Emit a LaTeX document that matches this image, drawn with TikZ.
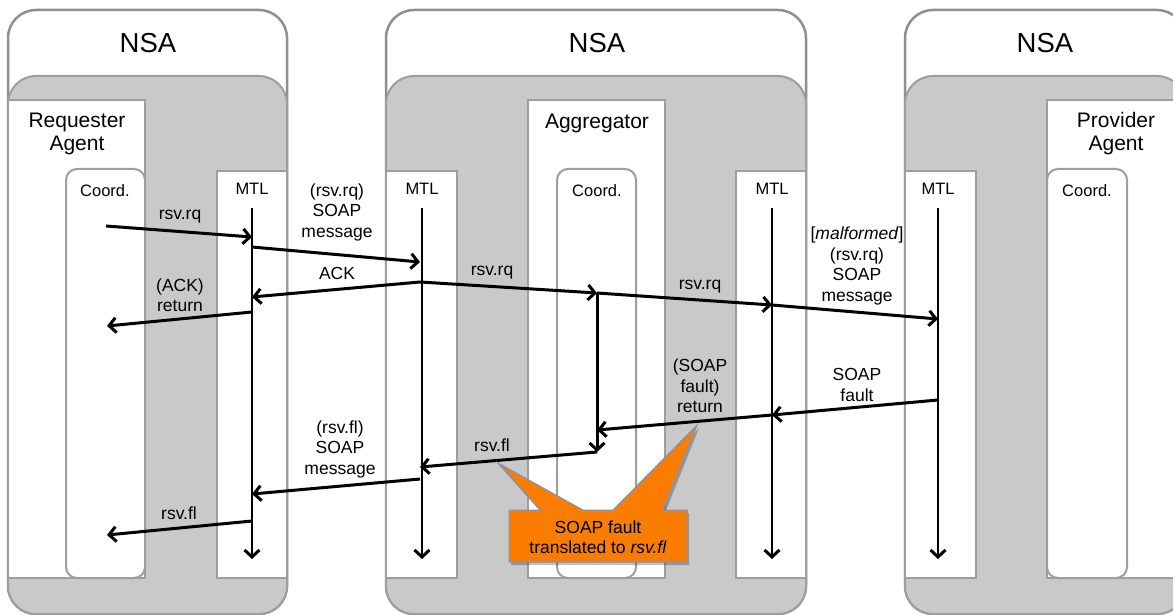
\documentclass[tikz,border=0pt]{standalone}
\usepackage{fontspec}
\setmainfont{Liberation Sans}
\usepackage{tikz}
\usetikzlibrary{arrows.meta,calc,positioning}
\definecolor{nsaline}{gray}{0.56}
\definecolor{nsagrey}{gray}{0.79}
\definecolor{boxline}{gray}{0.62}
\definecolor{faultorange}{RGB}{250,125,0}
\definecolor{faultline}{RGB}{110,150,210}
\tikzset{
  nsa/.style={draw=nsaline, line width=2.5pt, fill=white, rounded corners=28pt},
  nsainner/.style={draw=boxline, line width=2pt, fill=nsagrey, rounded corners=28pt},
  layer/.style={draw=boxline, line width=2pt, fill=white},
  coordbox/.style={layer, rounded corners=11pt},
  msg/.style={line width=3pt, -{Straight Barb[length=7pt,width=15pt]}},
  life/.style={line width=1.6pt, -{Straight Barb[length=7pt,width=15pt,line width=3pt]}},
  lbl/.style={font=\fontsize{17.5}{20.5}\selectfont, align=center, inner sep=0pt},
  title/.style={font=\fontsize{27.5}{30}\selectfont, inner sep=0pt},
  agent/.style={font=\fontsize{21}{23}\selectfont, align=center, inner sep=0pt},
  small/.style={font=\fontsize{16.5}{19}\selectfont, inner sep=0pt},
}

\begin{document}
\begin{tikzpicture}[x=1pt,y=-1pt]
\path[use as bounding box] (0,0) rectangle (1173,615);
\clip (0,0) rectangle (1173,615);
%NSA-Rahmen und graue Flaeche
\foreach \xa/\xb in {8/287,386/806,905/1185}{
\draw[nsa] (\xa,10) rectangle (\xb,614);
\draw[nsainner] (\xa,76) rectangle (\xb,614);
}
%Agenten und MTL-Schichten
\draw[layer] (8,100) rectangle (145,578);
\draw[layer] (528,100) rectangle (665,578);
\draw[layer] (1047,100) rectangle (1195,578);
\foreach \xa/\xb in {217/287,386/457,736/806,905/976}{
\draw[layer] (\xa,171) rectangle (\xb,578);
}
\draw[coordbox] (66,169) rectangle (145,578);
\draw[coordbox] (557,169) rectangle (636,578);
\draw[coordbox] (1047,169) rectangle (1127,578);
%Beschriftung
\node[title] (nsaA) at (148,43) {NSA};
\node[title] (nsaB) at (597,43) {NSA};
\node[title] (nsaC) at (1045,43) {NSA};
\node[agent] (req) at (77,134) {Requester\\Agent};
\node[agent] (agg) at (597,123) {Aggregator};
\node[agent] (prov) at (1116,134) {Provider\\Agent};
\node[small] (crdA) at (105,191) {Coord.};
\node[small] (crdB) at (597,191) {Coord.};
\node[small] (crdC) at (1087,191) {Coord.};
\foreach \x/\n in {252/A,422/B,772/C,938/D}{
\node[small] (mtl\n) at (\x,189) {MTL};
\coordinate (top\n) at (\x,208);
\coordinate (bot\n) at (\x,559);
\draw[life] (top\n) -- (bot\n);
}
%Anfrage
\coordinate (rqS) at (106,226);
\coordinate (rqA) at (252,237);
\coordinate (smA) at (252,247);
\coordinate (smB) at (420,262);
\coordinate (ackB) at (420,282);
\coordinate (ackA) at (252,297);
\coordinate (retA) at (252,312);
\coordinate (retS) at (107,326);
\coordinate (aggT) at (597,293);
\coordinate (rqC) at (772,305);
\coordinate (rqD) at (938,319);
%Fehler
\coordinate (sfD) at (938,400);
\coordinate (sfC) at (772,415);
\coordinate (sfAgg) at (597,430);
\coordinate (aggB) at (597,452);
\coordinate (flB) at (420,467);
\coordinate (fmB) at (420,479);
\coordinate (fmA) at (252,494);
\coordinate (flA) at (252,521);
\coordinate (flS) at (107,535);
\draw[msg] (rqS) -- (rqA);
\draw[msg] (smA) -- (smB);
\draw[msg] (ackB) -- (ackA);
\draw[msg] (retA) -- (retS);
\draw[msg] (ackB) -- (aggT);
\draw[msg] (aggT) -- (rqC);
\draw[msg] (rqC) -- (rqD);
\draw[msg] (sfD) -- (sfC);
\draw[msg] (sfC) -- (sfAgg);
\draw[msg] (aggT) -- (aggB);
\draw[msg] (aggB) -- (flB);
\draw[msg] (fmB) -- (fmA);
\draw[msg] (flA) -- (flS);
\node[lbl] (l1) at (180,217) {rsv.rq};
\node[lbl] (l2) at (337,212) {(rsv.rq)\\SOAP\\message};
\node[lbl] (l3) at (337,273) {ACK};
\node[lbl] (l4) at (180,295) {(ACK)\\return};
\node[lbl] (l5) at (492,273) {rsv.rq};
\node[lbl] (l6) at (700,287) {rsv.rq};
\node[lbl] (l7) at (857,266) {[\textit{malformed}]\\(rsv.rq)\\SOAP\\message};
\node[lbl] (l8) at (857,385) {SOAP\\fault};
\node[lbl] (l9) at (700,386) {(SOAP\\fault)\\return};
\node[lbl] (l10) at (492,445) {rsv.fl};
\node[lbl] (l11) at (340,449) {(rsv.fl)\\SOAP\\message};
\node[lbl] (l12) at (179,513) {rsv.fl};
%Sprechblase
\fill[black,opacity=0.25] (511,513) -- (542,513) -- (500,466) -- (585,513) -- (615,513) -- (699,428) -- (665,513) -- (689,513) -- (689,565) -- (511,565) -- cycle;
\draw[fill=faultorange,draw=faultline,line width=1pt] (509,510) -- (540,510) -- (498,463) -- (583,510) -- (613,510) -- (697,425) -- (663,510) -- (687,510) -- (687,562) -- (509,562) -- cycle;
\node[lbl] (fault) at (598,537) {SOAP fault\\translated to \textit{rsv.fl}};
\end{tikzpicture}
\end{document}
